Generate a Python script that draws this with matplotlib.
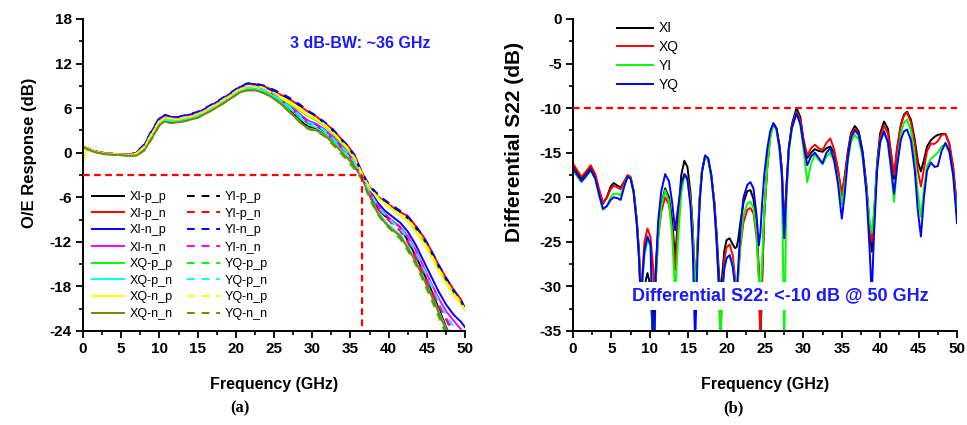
import matplotlib
matplotlib.use('Agg')
import matplotlib.pyplot as plt
from matplotlib.ticker import MultipleLocator
from matplotlib.patches import Rectangle

# ---------------- data: (a) O/E response ----------------
freq_a = [0, 0.5, 1.5, 3, 4.5, 6, 7, 8, 9, 10, 10.7, 11.5, 12.5, 13.5, 15, 16.5, 18, 19.5, 20.5, 21.5,
          22.5, 23.5, 24.5, 25.5, 26.5, 27.5, 28.5, 29.5, 30.5, 31.5, 32.5, 33.5, 34.5, 35.5, 36.5, 37.5,
          38.5, 39.5, 40.5, 41.5, 42.5, 43.5, 44.5, 45.5, 46.5, 47.5, 48.5, 49.5, 50]

XI_p_p = [0.8, 0.6, 0.2, -0.1, -0.2, -0.3, -0.1, 0.8, 2.7, 4.5, 5.0, 4.7, 4.7, 4.9, 5.3, 6.1, 7.0, 8.0, 8.8, 9.2, 9.2, 8.8, 8.2,
          7.2, 6.3, 5.4, 4.3, 3.5, 3.3, 2.7, 1.8, 0.9, 0.2, -1.2, -3.2, -5.4, -7.4, -8.5, -9.2, -10.0, -11.8, -13.8, -16.0, -18.3, -20.8, -23.4, -25.5, -26.0, -26.0]
XI_p_n = [0.8, 0.6, 0.2, -0.1, -0.2, -0.3, 0.0, 0.9, 2.7, 4.4, 4.9, 4.7, 4.7, 4.9, 5.2, 6.0, 6.9, 7.9, 8.6, 9.1, 9.2, 9.0, 8.6,
          8.0, 7.5, 6.9, 6.2, 5.5, 4.9, 4.1, 3.3, 2.2, 1.1, -0.2, -2.6, -4.6, -5.8, -6.6, -7.3, -8.0, -8.5, -9.8, -11.2, -13.0, -15.0, -16.8, -18.4, -19.8, -21.0]
XI_n_p = [0.8, 0.6, 0.2, -0.1, -0.2, -0.3, 0.0, 1.0, 2.9, 4.6, 5.0, 4.8, 4.8, 5.0, 5.4, 6.2, 7.1, 8.1, 8.8, 9.3, 9.2, 8.9, 8.4,
          7.6, 6.8, 6.0, 5.0, 4.2, 3.8, 3.2, 2.3, 1.3, 0.4, -1.0, -3.1, -5.0, -6.6, -7.8, -8.6, -9.4, -10.6, -12.3, -14.4, -16.5, -18.6, -20.4, -21.8, -22.8, -23.5]
XI_n_n = [0.8, 0.6, 0.2, -0.1, -0.2, -0.3, -0.1, 0.8, 2.6, 4.3, 4.8, 4.6, 4.6, 4.8, 5.2, 6.0, 6.9, 7.9, 8.6, 9.0, 9.0, 8.7, 8.2,
          7.5, 6.8, 6.0, 5.1, 4.3, 3.9, 3.2, 2.3, 1.3, 0.3, -1.1, -3.2, -5.2, -7.0, -8.2, -9.2, -10.0, -11.2, -13.0, -15.2, -17.4, -19.5, -21.3, -22.6, -23.8, -25.5]
YI_p_p = [0.8, 0.6, 0.2, -0.1, -0.2, -0.3, 0.0, 1.0, 2.9, 4.6, 5.1, 4.8, 4.8, 5.0, 5.4, 6.2, 7.1, 8.1, 8.8, 9.3, 9.3, 9.0, 8.6,
          8.1, 7.6, 7.0, 6.3, 5.6, 4.9, 4.1, 3.2, 2.1, 1.0, -0.4, -2.8, -4.5, -5.6, -6.4, -7.2, -8.0, -8.8, -10.0, -11.4, -13.2, -15.2, -17.0, -18.6, -20.0, -21.0]
YI_p_n = [0.8, 0.6, 0.2, -0.1, -0.2, -0.3, -0.1, 0.9, 2.7, 4.4, 4.9, 4.7, 4.7, 4.9, 5.3, 6.1, 7.0, 8.0, 8.7, 9.1, 9.1, 8.8, 8.3,
          7.4, 6.6, 5.8, 4.8, 4.0, 3.6, 3.0, 2.0, 1.0, 0.0, -1.4, -3.4, -5.5, -7.4, -8.6, -9.6, -10.5, -12.0, -14.0, -16.2, -18.4, -20.6, -22.4, -24.5, -26.0, -26.0]
YI_n_p = [0.8, 0.6, 0.2, -0.1, -0.2, -0.3, 0.1, 1.1, 3.0, 4.7, 5.1, 4.8, 4.8, 5.1, 5.5, 6.3, 7.2, 8.2, 8.9, 9.3, 9.3, 9.1, 8.7,
          8.2, 7.7, 7.1, 6.4, 5.6, 5.0, 4.2, 3.4, 2.2, 1.1, -0.3, -2.7, -4.4, -5.5, -6.4, -7.1, -7.8, -8.6, -9.8, -11.2, -13.0, -15.0, -16.8, -18.5, -20.0, -21.0]
YI_n_n = [0.8, 0.6, 0.2, -0.1, -0.2, -0.3, -0.1, 0.8, 2.6, 4.3, 4.8, 4.6, 4.6, 4.8, 5.2, 6.0, 6.9, 7.9, 8.6, 9.0, 9.0, 8.7, 8.2,
          7.4, 6.6, 5.8, 4.8, 4.1, 3.7, 3.1, 2.1, 1.1, 0.1, -1.3, -3.3, -5.4, -7.2, -8.4, -9.4, -10.3, -11.6, -13.6, -15.8, -18.0, -20.2, -22.2, -24.0, -26.0, -26.0]
XQ_p_p = [0.8, 0.5, 0.1, -0.2, -0.3, -0.4, -0.3, 0.4, 2.1, 3.9, 4.4, 4.2, 4.3, 4.5, 4.9, 5.7, 6.6, 7.6, 8.3, 8.6, 8.6, 8.4, 7.9,
          7.4, 6.8, 6.2, 5.6, 4.9, 4.4, 3.7, 2.8, 1.6, 0.6, -0.8, -3.0, -4.8, -5.9, -6.8, -7.6, -8.4, -9.2, -10.4, -11.8, -13.6, -15.6, -17.4, -19.0, -20.3, -21.2]
XQ_p_n = [0.8, 0.5, 0.1, -0.2, -0.3, -0.4, -0.3, 0.4, 2.0, 3.8, 4.3, 4.1, 4.2, 4.4, 4.8, 5.6, 6.5, 7.5, 8.2, 8.5, 8.5, 8.3, 7.8,
          7.2, 6.4, 5.6, 4.6, 3.8, 3.4, 2.8, 1.8, 0.8, -0.2, -1.5, -3.3, -5.6, -7.8, -9.2, -10.2, -11.0, -12.6, -14.4, -16.6, -18.8, -21.2, -23.6, -25.5, -26.0, -26.0]
XQ_n_p = [-1.5, 0.7, 0.2, -0.1, -0.2, -0.3, -0.1, 0.7, 2.5, 4.2, 4.7, 4.5, 4.5, 4.7, 5.1, 5.9, 6.8, 7.8, 8.5, 8.9, 8.9, 8.7, 8.2,
          7.6, 7.0, 6.4, 5.7, 5.0, 4.5, 3.8, 2.9, 1.8, 0.7, -0.7, -2.9, -4.8, -6.0, -6.9, -7.6, -8.4, -9.2, -10.6, -12.0, -13.8, -15.8, -17.6, -19.2, -20.4, -21.3]
XQ_n_n = [0.8, 0.5, 0.1, -0.2, -0.3, -0.4, -0.4, 0.3, 1.9, 3.7, 4.2, 4.0, 4.1, 4.3, 4.7, 5.5, 6.4, 7.4, 8.1, 8.4, 8.4, 8.1, 7.6,
          6.9, 6.0, 5.0, 4.0, 3.2, 3.0, 2.5, 1.5, 0.5, -0.6, -1.8, -3.4, -5.8, -8.0, -9.4, -10.4, -11.2, -12.8, -14.6, -16.8, -19.0, -21.4, -23.8, -26.0, -26.0, -26.0]
YQ_p_p = [0.8, 0.5, 0.1, -0.2, -0.3, -0.4, -0.3, 0.4, 2.0, 3.8, 4.3, 4.1, 4.2, 4.4, 4.8, 5.6, 6.5, 7.5, 8.2, 8.5, 8.5, 8.2, 7.7,
          7.0, 6.1, 5.1, 4.1, 3.3, 3.0, 2.4, 1.4, 0.2, -1.0, -2.2, -3.6, -6.2, -8.2, -9.6, -10.6, -11.6, -13.2, -15.0, -17.2, -19.6, -22.0, -24.5, -26.0, -26.0, -26.0]
YQ_p_n = [0.8, 0.5, 0.1, -0.2, -0.3, -0.4, -0.2, 0.5, 2.2, 4.0, 4.5, 4.3, 4.3, 4.5, 4.9, 5.7, 6.6, 7.6, 8.3, 8.7, 8.7, 8.5, 8.0,
          7.4, 6.6, 5.8, 4.9, 4.1, 3.7, 3.1, 2.1, 1.1, 0.1, -1.2, -3.2, -5.2, -7.0, -8.3, -9.3, -10.2, -11.4, -13.2, -15.4, -17.6, -19.8, -21.8, -23.4, -24.8, -26.0]
YQ_n_p = [0.8, 0.6, 0.2, -0.1, -0.2, -0.3, -0.1, 0.8, 2.6, 4.3, 4.8, 4.6, 4.6, 4.8, 5.2, 6.0, 6.9, 7.9, 8.6, 9.0, 9.0, 8.8, 8.3,
          7.8, 7.2, 6.6, 5.9, 5.2, 4.6, 3.9, 3.0, 1.9, 0.8, -0.6, -2.8, -4.7, -5.9, -6.8, -7.5, -8.3, -9.0, -10.3, -11.7, -13.5, -15.5, -17.3, -18.9, -20.2, -21.1]
YQ_n_n = [0.8, 0.5, 0.1, -0.2, -0.3, -0.4, -0.4, 0.3, 1.9, 3.7, 4.2, 4.0, 4.1, 4.3, 4.7, 5.5, 6.4, 7.4, 8.1, 8.4, 8.4, 8.1, 7.6,
          6.9, 6.0, 5.0, 4.0, 3.2, 2.9, 2.3, 1.3, 0.3, -0.8, -2.0, -3.5, -6.0, -8.1, -9.5, -10.5, -11.4, -13.0, -14.8, -17.0, -19.3, -21.7, -24.2, -26.0, -26.0, -26.0]

labels_a = ['XI-p_p', 'XI-p_n', 'XI-n_p', 'XI-n_n', 'XQ-p_p', 'XQ-p_n', 'XQ-n_p', 'XQ-n_n',
            'YI-p_p', 'YI-p_n', 'YI-n_p', 'YI-n_n', 'YQ-p_p', 'YQ-p_n', 'YQ-n_p', 'YQ-n_n']
series_a = [XI_p_p, XI_p_n, XI_n_p, XI_n_n, XQ_p_p, XQ_p_n, XQ_n_p, XQ_n_n,
            YI_p_p, YI_p_n, YI_n_p, YI_n_n, YQ_p_p, YQ_p_n, YQ_n_p, YQ_n_n]
colors_a = ['#000000', '#ff0000', '#0000ff', '#ff00ff', '#00ff00', '#00ffff', '#ffff00', '#808000'] * 2

bw_freq = 36.5
bw_level = -3

# ---------------- data: (b) differential S22 ----------------
freq_b = [0, 0.5, 1.1, 1.7, 2.3, 2.9, 3.4, 3.9, 4.4, 4.9,
          5.3, 5.8, 6.2, 6.7, 7.1, 7.5, 7.9, 8.3, 8.6, 8.8,
          9.0, 9.3, 9.7, 10.1, 10.4, 10.6, 10.8, 11.1, 11.5, 12.0,
          12.5, 12.9, 13.3, 13.7, 14.1, 14.5, 14.9, 15.3, 15.6, 15.9,
          16.2, 16.5, 16.8, 17.2, 17.6, 18.0, 18.4, 18.7, 19.0, 19.2,
          19.4, 19.7, 20.0, 20.4, 20.8, 21.1, 21.3, 21.5, 21.8, 22.2,
          22.7, 23.1, 23.5, 23.9, 24.2, 24.4, 24.6, 24.9, 25.3, 25.7,
          26.1, 26.5, 26.9, 27.2, 27.5, 27.8, 28.1, 28.5, 29.1, 29.6,
          30.0, 30.5, 31.0, 31.5, 32.0, 32.5, 33.0, 33.5, 34.0, 34.5,
          35.0, 35.4, 35.8, 36.2, 36.7, 37.2, 37.7, 38.2, 38.6, 38.9,
          39.2, 39.6, 40.0, 40.5, 41.0, 41.4, 41.8, 42.2, 42.7, 43.1,
          43.5, 44.0, 44.5, 44.9, 45.3, 45.7, 46.1, 46.6, 47.1, 47.5,
          48.0, 48.5, 49.0, 49.5, 50.0]
S22_XI = [-16.3, -17.1, -17.9, -17.3, -16.6, -17.6, -19.3, -20.7, -20.0, -18.8,
          -18.4, -18.7, -18.9, -18.2, -17.6, -17.8, -19.3, -22.5, -26.0, -31.0,
          -31.0, -30.0, -28.5, -30.0, -36.5, -31.0, -27.5, -23.5, -20.8, -19.0,
          -20.0, -22.5, -26.9, -22.0, -17.5, -15.9, -16.6, -19.5, -23.5, -31.0,
          -25.5, -20.0, -17.0, -15.4, -15.7, -17.5, -20.5, -24.0, -28.5, -31.0,
          -29.0, -26.0, -24.8, -24.6, -25.3, -25.7, -25.6, -24.8, -22.8, -20.6,
          -19.3, -19.2, -20.2, -23.5, -28.0, -36.5, -30.0, -22.0, -16.5, -13.0,
          -11.7, -12.3, -14.3, -17.0, -24.0, -19.0, -14.5, -11.8, -10.0, -11.0,
          -13.5, -15.6, -15.0, -14.6, -14.8, -14.9, -14.5, -14.3, -15.0, -17.0,
          -19.8, -17.5, -14.8, -12.8, -12.0, -12.6, -14.8, -18.5, -23.0, -26.1,
          -22.0, -16.0, -12.8, -11.5, -12.3, -15.0, -17.9, -14.5, -11.8, -10.7,
          -10.4, -11.3, -13.5, -16.0, -17.1, -15.8, -14.3, -13.6, -13.2, -13.0,
          -12.9, -12.9, -14.0, -16.8, -21.4]
S22_XQ = [-16.2, -16.9, -17.7, -17.1, -16.4, -17.4, -19.1, -20.6, -20.1, -19.1,
          -18.7, -18.9, -19.1, -18.2, -17.5, -17.7, -19.3, -22.5, -26.5, -31.0,
          -29.0, -25.0, -23.5, -24.5, -27.5, -31.0, -29.0, -24.5, -21.6, -20.0,
          -20.8, -23.5, -28.2, -23.0, -18.8, -17.4, -17.8, -20.0, -24.0, -31.0,
          -25.5, -20.0, -17.0, -15.4, -15.7, -17.5, -20.5, -24.5, -30.0, -36.5,
          -31.0, -27.0, -25.6, -25.3, -26.5, -29.0, -31.0, -29.0, -25.5, -22.8,
          -21.4, -21.2, -21.8, -24.5, -29.0, -36.5, -30.0, -22.0, -16.5, -13.0,
          -11.7, -12.3, -14.3, -16.8, -23.0, -18.5, -14.5, -12.0, -10.4, -11.3,
          -13.5, -15.3, -14.5, -14.1, -14.5, -14.7, -13.9, -13.4, -14.6, -16.8,
          -19.8, -17.6, -15.0, -13.0, -12.3, -12.9, -15.2, -19.0, -23.0, -25.0,
          -22.0, -16.5, -13.2, -12.0, -12.8, -15.0, -17.5, -14.5, -11.9, -10.8,
          -10.5, -11.6, -14.0, -17.0, -18.8, -16.8, -14.8, -14.0, -14.0, -13.7,
          -13.0, -12.9, -14.0, -16.5, -21.0]
S22_YI = [-17.0, -17.6, -18.3, -17.7, -17.0, -18.0, -19.8, -21.4, -21.0, -20.0,
          -19.6, -19.6, -19.8, -18.6, -17.7, -17.9, -19.5, -23.0, -27.0, -31.0,
          -30.0, -26.5, -24.8, -25.5, -36.5, -36.5, -29.0, -24.5, -21.0, -19.2,
          -20.5, -24.0, -31.0, -24.5, -19.5, -17.6, -18.0, -20.5, -24.5, -31.0,
          -25.5, -20.0, -17.0, -15.5, -15.8, -17.8, -21.0, -25.0, -30.0, -36.5,
          -31.0, -28.0, -26.8, -26.5, -27.5, -29.5, -31.0, -29.0, -25.0, -22.0,
          -20.7, -20.5, -21.2, -24.0, -29.0, -31.0, -28.0, -21.5, -16.5, -13.2,
          -11.8, -12.5, -14.8, -18.0, -36.5, -20.0, -15.0, -12.3, -10.6, -11.8,
          -14.5, -18.3, -16.2, -15.2, -15.8, -16.3, -15.4, -15.0, -16.0, -18.0,
          -20.8, -18.5, -15.8, -13.8, -13.0, -13.5, -15.5, -19.0, -22.5, -24.0,
          -21.5, -16.5, -13.8, -12.6, -14.0, -17.0, -20.5, -16.5, -12.8, -11.6,
          -11.3, -12.5, -15.5, -19.5, -22.2, -19.0, -16.5, -15.7, -15.3, -15.0,
          -14.3, -14.1, -15.0, -17.5, -22.0]
S22_YQ = [-16.8, -17.4, -18.2, -17.6, -16.9, -17.9, -19.7, -21.3, -21.0, -20.3,
          -20.0, -20.1, -20.3, -18.7, -17.7, -17.9, -19.5, -23.0, -27.0, -31.0,
          -29.5, -26.0, -24.4, -25.3, -36.5, -36.5, -28.0, -22.5, -19.3, -17.4,
          -18.2, -20.5, -23.7, -21.0, -18.5, -17.4, -18.0, -21.0, -26.0, -36.5,
          -27.0, -20.5, -17.2, -15.3, -15.6, -17.5, -21.0, -25.0, -30.0, -31.0,
          -31.0, -28.0, -26.8, -26.5, -27.8, -30.0, -31.0, -28.0, -23.5, -20.0,
          -18.6, -18.3, -19.0, -22.0, -25.4, -24.0, -21.0, -17.5, -14.5, -12.5,
          -11.7, -12.3, -14.5, -17.5, -24.6, -19.0, -14.5, -12.2, -10.6, -11.8,
          -14.0, -16.4, -15.4, -15.0, -15.6, -16.2, -15.0, -14.5, -15.8, -18.5,
          -22.4, -19.5, -15.5, -13.3, -12.5, -13.0, -15.0, -19.5, -25.5, -31.0,
          -24.0, -17.0, -13.8, -12.6, -13.8, -16.5, -19.6, -16.5, -13.5, -12.6,
          -12.4, -13.6, -17.0, -21.5, -24.4, -20.0, -17.0, -16.1, -16.6, -16.5,
          -14.8, -13.9, -14.8, -17.5, -22.9]
labels_b = ['XI', 'XQ', 'YI', 'YQ']
series_b = [S22_XI, S22_XQ, S22_YI, S22_YQ]
colors_b = ['#000000', '#ff0000', '#00ff00', '#0000ff']
s22_limit = -10

# ---------------- figure ----------------
plt.rcParams['font.family'] = ['Liberation Sans', 'DejaVu Sans']
plt.rcParams['axes.unicode_minus'] = False
W, H = 967, 425
fig = plt.figure(figsize=(W / 100, H / 100), dpi=100)
ax1 = fig.add_axes([83 / W, 1 - 331 / H, (465 - 83) / W, (331 - 19) / H])
ax2 = fig.add_axes([573 / W, 1 - 331 / H, (957 - 573) / W, (331 - 19) / H])

labfont = dict(family='Liberation Sans', weight='bold', size=11.5)

for ax in (ax1, ax2):
    for s in ('top', 'right'):
        ax.spines[s].set_visible(False)
    for s in ('left', 'bottom'):
        ax.spines[s].set_linewidth(1.4)
    ax.set_xlim(0, 50)
    ax.xaxis.set_major_locator(MultipleLocator(5))
    ax.xaxis.set_minor_locator(MultipleLocator(2.5))
    ax.tick_params(which='major', direction='out', length=5, width=1.3, pad=3)
    ax.tick_params(which='minor', direction='out', length=3, width=1.2)
    ax.set_xlabel('Frequency (GHz)', fontdict=labfont, labelpad=15)

# ---- (a)
for i, (ys, lab, c) in enumerate(zip(series_a, labels_a, colors_a)):
    if i < 8:
        ax1.plot(freq_a, ys, color=c, lw=1.4, label=lab)
    else:
        ax1.plot(freq_a, ys, color=c, lw=1.4, ls=(0, (4, 3.5)), label=lab)
ax1.plot([0, bw_freq], [bw_level, bw_level], color='#ff0000', lw=1.6, ls=(0, (3, 2)), zorder=5)
ax1.plot([bw_freq, bw_freq], [bw_level, -24], color='#ff0000', lw=1.6, ls=(0, (3, 2)), zorder=5)
ax1.set_ylim(-24, 18)
ax1.yaxis.set_major_locator(MultipleLocator(6))
ax1.yaxis.set_minor_locator(MultipleLocator(3))
ax1.set_ylabel('O/E Response (dB)', family='Liberation Sans', weight='bold', fontsize=12)
ax1.yaxis.set_label_coords((37 - 83) / 382, (331 - 153) / 312)
ax1.text(0.725, 0.923, '3 dB-BW: ~36 GHz', transform=ax1.transAxes, color='#1a1aff',
         fontsize=11.5, fontweight='bold', ha='center', va='center')
ax1.legend(ncol=2, loc='upper left', bbox_to_anchor=(0.01, 0.465), frameon=False,
           fontsize=9, handlelength=2.6, handletextpad=0.4, labelspacing=0.38,
           columnspacing=1.2, borderaxespad=0)

# ---- (b)
for ys, lab, c in zip(series_b, labels_b, colors_b):
    ax2.plot(freq_b, ys, color=c, lw=1.4, label=lab)
ax2.axhline(s22_limit, color='#ff0000', lw=1.6, ls=(0, (3, 2)), zorder=5)
ax2.set_ylim(-35, 0)
ax2.yaxis.set_major_locator(MultipleLocator(5))
ax2.yaxis.set_minor_locator(MultipleLocator(2.5))
ax2.set_ylabel('Differential S22 (dB)', family='Liberation Sans', weight='bold', fontsize=15)
ax2.yaxis.set_label_coords((524 - 573) / 384, (331 - 142) / 312)
ax2.add_patch(Rectangle((7.4, -32.6), 39.2, 3.1, facecolor='white', edgecolor='none', zorder=6))
ax2.text(27.0, -31.1, 'Differential S22: <-10 dB @ 50 GHz', color='#1a1aff',
         fontsize=13, fontweight='bold', ha='center', va='center', zorder=7)
ax2.legend(loc='upper left', bbox_to_anchor=(0.1, 1.01), frameon=False, fontsize=10,
           handlelength=2.6, handletextpad=0.4, labelspacing=0.35, borderaxespad=0)

for ax in (ax1, ax2):
    for t in ax.get_xticklabels() + ax.get_yticklabels():
        t.set_fontfamily('Liberation Sans')
        t.set_fontweight('bold')
        t.set_fontsize(11)

fig.text(240 / W, 1 - 408 / H, '(a)', family='Liberation Serif', weight='bold', fontsize=12,
         ha='center', va='center')
fig.text(733 / W, 1 - 408 / H, '(b)', family='Liberation Serif', weight='bold', fontsize=12,
         ha='center', va='center')

fig.savefig('out.png', dpi=100)
